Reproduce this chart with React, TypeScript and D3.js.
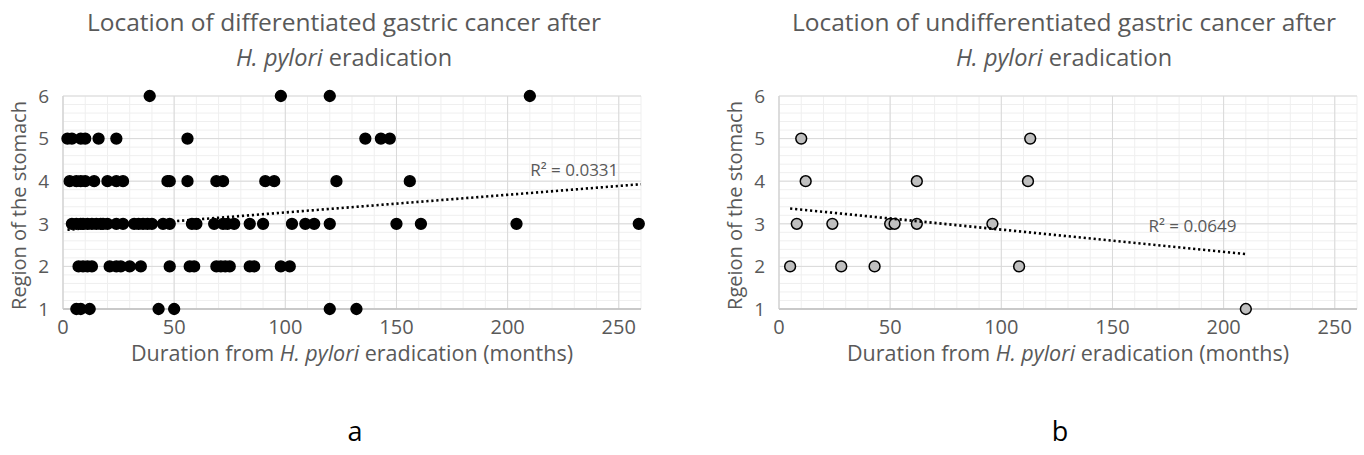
import React from 'react';
import * as d3 from 'd3';

// months from eradication, grouped by stomach region (1-6)
const diffAt6 = [39, 98, 120, 210];
const diffAt5 = [2, 4, 8, 10, 16, 24, 56, 136, 143, 147];
const diffAt4 = [3, 6, 8, 10, 14, 20, 24, 27, 47, 48, 56, 69, 72, 91, 95, 123, 156];
const diffAt3 = [4, 6, 8, 9, 11, 13, 15, 17, 18, 20, 24, 27, 32, 34, 36, 38, 40, 45, 48, 58, 60, 68, 72, 74, 77, 84, 90, 103, 109, 113, 120, 150, 161, 204, 259];
const diffAt2 = [7, 9, 11, 13, 21, 24, 26, 30, 35, 48, 57, 59, 69, 71, 73, 75, 84, 86, 98, 102];
const diffAt1 = [6, 8, 12, 43, 50, 120, 132];

const undiffAt5 = [10, 113];
const undiffAt4 = [12, 62, 112];
const undiffAt3 = [8, 24, 50, 52, 62, 96];
const undiffAt2 = [5, 28, 43, 108];
const undiffAt1 = [210];

// trendline endpoints
const trendA = [{ m: 2, r: 2.86 }, { m: 260, r: 3.93 }];
const trendB = [{ m: 5, r: 3.36 }, { m: 210, r: 2.29 }];

const xTicks = [0, 50, 100, 150, 200, 250];
const yTicks = [1, 2, 3, 4, 5, 6];

const toPoints = (groups: number[][], regions: number[]) =>
  groups.flatMap((g, i) => g.map((m) => ({ m, r: regions[i] })));

const diffPoints = toPoints([diffAt6, diffAt5, diffAt4, diffAt3, diffAt2, diffAt1], [6, 5, 4, 3, 2, 1]);
const undiffPoints = toPoints([undiffAt5, undiffAt4, undiffAt3, undiffAt2, undiffAt1], [5, 4, 3, 2, 1]);

const FONT = "'Open Sans', sans-serif";
const GREY = '#595959';

type Pt = { m: number; r: number };

const Panel = ({ left, title, yLabel, points, trend, r2, r2At, fill, stroke, letter, titleShift, letterShift }: {
  left: number; title: string; yLabel: string; points: Pt[]; trend: Pt[];
  r2: string; r2At: Pt; fill: string; stroke: string; letter: string;
  titleShift: number; letterShift: number;
}) => {
  const x = d3.scaleLinear().domain([0, 260]).range([left, left + 578]);
  const y = d3.scaleLinear().domain([1, 6]).range([309, 96]);
  const line = d3.line<Pt>().x((d) => x(d.m)).y((d) => y(d.r));
  const minorX = d3.range(0, 261, 10);
  const minorY = d3.range(1, 6.01, 0.2);
  const cx = left + 289;

  return (
    <g fontFamily={FONT}>
      {/* grid */}
      {minorY.map((v) => (
        <line key={'hy' + v} x1={x(0)} x2={x(260)} y1={y(v)} y2={y(v)} stroke="#efefef" />
      ))}
      {minorX.map((v) => (
        <line key={'vx' + v} x1={x(v)} x2={x(v)} y1={y(1)} y2={y(6)} stroke="#efefef" />
      ))}
      {yTicks.map((v) => (
        <line key={'my' + v} x1={x(0)} x2={x(260)} y1={y(v)} y2={y(v)} stroke="#d9d9d9" />
      ))}
      {xTicks.map((v) => (
        <line key={'mx' + v} x1={x(v)} x2={x(v)} y1={y(1)} y2={y(6)} stroke="#d9d9d9" />
      ))}
      <line x1={x(0)} x2={x(260)} y1={y(1)} y2={y(1)} stroke="#bfbfbf" strokeWidth={1.5} />
      <line x1={x(0)} x2={x(0)} y1={y(1)} y2={y(6)} stroke="#d0d0d0" />

      {/* tick labels */}
      {yTicks.map((v) => (
        <text key={'yt' + v} x={x(0) - 14} y={y(v)} dy="0.36em" textAnchor="end" fontSize={19} fill={GREY}>{v}</text>
      ))}
      {xTicks.map((v) => (
        <text key={'xt' + v} x={x(v)} y={334} textAnchor="middle" fontSize={20} fill={GREY}>{v}</text>
      ))}

      {/* points */}
      {points.map((d, i) => (
        <circle key={i} cx={x(d.m)} cy={y(d.r)} r={5.4} fill={fill} stroke={stroke} strokeWidth={1.5} />
      ))}

      {/* trendline */}
      <path d={line(trend) || ''} fill="none" stroke="#000" strokeWidth={2.6} strokeDasharray="2.2 2.8" />
      <text x={x(r2At.m)} y={y(r2At.r)} dy="0.36em" textAnchor="middle" fontSize={17} fill={GREY}>{r2}</text>

      {/* titles */}
      <text x={cx + titleShift} y={31} textAnchor="middle" fontSize={24.5} fill={GREY}>{title}</text>
      <text x={cx + titleShift} y={66} textAnchor="middle" fontSize={23.5} fill={GREY}>
        <tspan fontStyle="italic">H. pylori</tspan> eradication
      </text>
      <text x={cx} y={361} textAnchor="middle" fontSize={21.5} fill={GREY}>
        Duration from <tspan fontStyle="italic">H. pylori</tspan> eradication (months)
      </text>
      <text transform={`translate(${left - 37},${(y(1) + y(6)) / 2 + 3}) rotate(-90)`} textAnchor="middle" fontSize={20} fill={GREY}>{yLabel}</text>

      <text x={cx + letterShift} y={441} textAnchor="middle" fontSize={27} fill="#000">{letter}</text>
    </g>
  );
};

export default function App() {
  return (
    <svg width={1364} height={455} style={{ position: 'absolute', left: 0, top: 0, background: '#fff' }}>
      <rect width={1364} height={455} fill="#fff" />
      <Panel left={63} title="Location of differentiated gastric cancer after" yLabel="Region of the stomach"
        points={diffPoints} trend={trendA} r2="R² = 0.0331" r2At={{ m: 230, r: 4.26 }}
        fill="#000" stroke="#000" letter="a" titleShift={-8} letterShift={3} />
      <Panel left={779} title="Location of undifferentiated gastric cancer after" yLabel="Rgeion of the stomach"
        points={undiffPoints} trend={trendB} r2="R² = 0.0649" r2At={{ m: 186, r: 2.95 }}
        fill="#bfbfbf" stroke="#000" letter="b" titleShift={-4} letterShift={-8} />
    </svg>
  );
}
